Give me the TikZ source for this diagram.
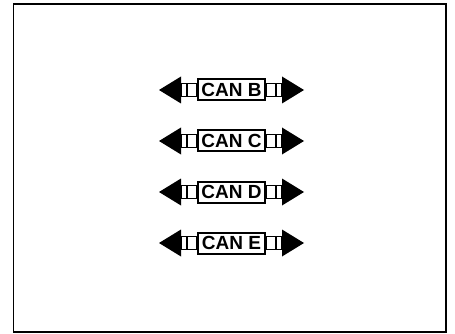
\documentclass[tikz,border=0pt]{standalone}
\usepackage{fontspec}
\setmainfont{Liberation Sans}
\usepackage{tikz}
\usetikzlibrary{positioning}

\begin{document}
\begin{tikzpicture}[
    x=1pt, y=-1pt,
    kaleng/.style={draw, line width=2pt, minimum height=21pt, minimum width=67pt,
                   inner sep=0pt, font=\fontsize{19}{19}\selectfont\bfseries},
    pipa/.style={draw, line width=1.6pt},
    ujung/.style={fill=black}
  ]
    \useasboundingbox (0,0) rectangle (455,334);
    \draw[line width=1.3pt] (13.5,4) rectangle (446,332);
    \foreach \n/\y in {B/90, C/141, D/192, E/243} {
      \node[kaleng] (can\n) at (231.5,\y) {CAN \n};
      \draw[pipa] (can\n.west) ++(0,-6.5) rectangle ++(-16,13);
      \draw[pipa] (can\n.west) ++(-10,-6.5) -- ++(0,13);
      \fill[ujung] (can\n.west) ++(-16,-13.5) -- ++(0,27) -- ++(-22,-13.5) -- cycle;
      \draw[pipa] (can\n.east) ++(0,-6.5) rectangle ++(16,13);
      \draw[pipa] (can\n.east) ++(10,-6.5) -- ++(0,13);
      \fill[ujung] (can\n.east) ++(16,-13.5) -- ++(0,27) -- ++(22,-13.5) -- cycle;
    }
  \end{tikzpicture}
\end{document}
